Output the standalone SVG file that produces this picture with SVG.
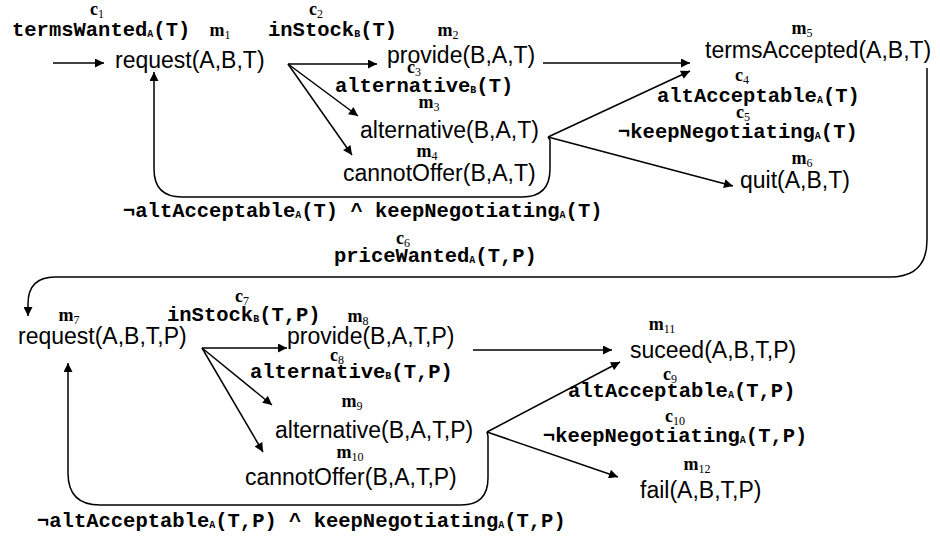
<svg xmlns="http://www.w3.org/2000/svg" width="940" height="537" viewBox="0 0 940 537">
<style>
.n{font-family:"Liberation Sans",Arial,sans-serif;font-size:23px;fill:#000}
.c{font-family:"Liberation Mono","Courier New",monospace;font-weight:bold;font-size:20.5px;fill:#000}
.cs{font-size:10px}
.m{font-family:"Liberation Serif","Times New Roman",serif;font-size:18px;font-weight:bold;fill:#000;text-anchor:middle}
.ms{font-size:12px;font-weight:normal}
.e{fill:none;stroke:#000;stroke-width:1.5}
</style>
<defs>
<marker id="ah" viewBox="0 0 10 10" refX="10" refY="5" markerUnits="userSpaceOnUse" markerWidth="11" markerHeight="9" orient="auto">
<path d="M0,0 L10,5 L0,10 z" fill="#000"/>
</marker>
</defs>
<rect width="940" height="537" fill="#fff"/>

<g id="connectors">
<line class="e" x1="53" y1="63" x2="104" y2="63" marker-end="url(#ah)"/>
<line class="e" x1="288" y1="64" x2="377" y2="64" marker-end="url(#ah)"/>
<line class="e" x1="288" y1="64" x2="358" y2="116" marker-end="url(#ah)"/>
<line class="e" x1="288" y1="64" x2="352" y2="155" marker-end="url(#ah)"/>
<line class="e" x1="543" y1="63" x2="690" y2="63" marker-end="url(#ah)"/>
<line class="e" x1="548" y1="137" x2="690" y2="71" marker-end="url(#ah)"/>
<line class="e" x1="548" y1="137" x2="733" y2="186" marker-end="url(#ah)"/>
<path class="e" d="M548,137 L550,140 L550,169 Q550,197 522,197 L182,197 Q154,197 154,169 L154,72" marker-end="url(#ah)"/>
<path class="e" d="M927,68 L927,240 Q927,277 890,277 L55,277 Q28,277 28,304 L28,316" marker-end="url(#ah)"/>
<line class="e" x1="202" y1="348" x2="287" y2="348" marker-end="url(#ah)"/>
<line class="e" x1="202" y1="348" x2="272" y2="405" marker-end="url(#ah)"/>
<line class="e" x1="202" y1="348" x2="263" y2="452" marker-end="url(#ah)"/>
<line class="e" x1="473" y1="350" x2="612" y2="350" marker-end="url(#ah)"/>
<line class="e" x1="487" y1="432" x2="620" y2="362" marker-end="url(#ah)"/>
<line class="e" x1="487" y1="432" x2="618" y2="477" marker-end="url(#ah)"/>
<path class="e" d="M487,432 L488,436 L488,478 Q488,505 461,505 L100,505 Q68,505 68,473 L68,363" marker-end="url(#ah)"/>
</g>

<g id="edge-labels">
<text class="m" x="97" y="15">c<tspan class="ms" dy="3">1</tspan></text>
<text class="c" x="12" y="36">termsWanted<tspan class="cs" dy="1">A</tspan><tspan dy="-1">(T)</tspan></text>
<text class="m" x="316" y="15">c<tspan class="ms" dy="3">2</tspan></text>
<text class="c" x="268" y="36">inStock<tspan class="cs" dy="1">B</tspan><tspan dy="-1">(T)</tspan></text>
<text class="m" x="414" y="73">c<tspan class="ms" dy="3">3</tspan></text>
<text class="c" x="335" y="92">alternative<tspan class="cs" dy="1">B</tspan><tspan dy="-1">(T)</tspan></text>
<text class="m" x="742" y="81">c<tspan class="ms" dy="3">4</tspan></text>
<text class="c" x="657" y="102">altAcceptable<tspan class="cs" dy="1">A</tspan><tspan dy="-1">(T)</tspan></text>
<text class="m" x="743" y="118">c<tspan class="ms" dy="3">5</tspan></text>
<text class="c" x="618" y="138">¬keepNegotiating<tspan class="cs" dy="1">A</tspan><tspan dy="-1">(T)</tspan></text>
<text class="c" x="123" y="217">¬altAcceptable<tspan class="cs" dy="1">A</tspan><tspan dy="-1">(T) ^ keepNegotiating</tspan><tspan class="cs" dy="1">A</tspan><tspan dy="-1">(T)</tspan></text>
<text class="m" x="403" y="244">c<tspan class="ms" dy="3">6</tspan></text>
<text class="c" x="334" y="262">priceWanted<tspan class="cs" dy="1">A</tspan><tspan dy="-1">(T,P)</tspan></text>
<text class="m" x="242" y="302">c<tspan class="ms" dy="3">7</tspan></text>
<text class="c" x="167" y="321">inStock<tspan class="cs" dy="1">B</tspan><tspan dy="-1">(T,P)</tspan></text>
<text class="m" x="337" y="361">c<tspan class="ms" dy="3">8</tspan></text>
<text class="c" x="250" y="378">alternative<tspan class="cs" dy="1">B</tspan><tspan dy="-1">(T,P)</tspan></text>
<text class="m" x="670" y="380">c<tspan class="ms" dy="3">9</tspan></text>
<text class="c" x="568" y="397">altAcceptable<tspan class="cs" dy="1">A</tspan><tspan dy="-1">(T,P)</tspan></text>
<text class="m" x="675" y="422">c<tspan class="ms" dy="3">10</tspan></text>
<text class="c" x="543" y="442">¬keepNegotiating<tspan class="cs" dy="1">A</tspan><tspan dy="-1">(T,P)</tspan></text>
<text class="c" x="37" y="527">¬altAcceptable<tspan class="cs" dy="1">A</tspan><tspan dy="-1">(T,P) ^ keepNegotiating</tspan><tspan class="cs" dy="1">A</tspan><tspan dy="-1">(T,P)</tspan></text>
</g>

<g id="m1"><text class="m" x="220" y="36">m<tspan class="ms" dy="3">1</tspan></text><text class="n" x="115" y="68">request(A,B,T)</text></g>
<g id="m2"><text class="m" x="448" y="36">m<tspan class="ms" dy="3">2</tspan></text><text class="n" x="387" y="63">provide(B,A,T)</text></g>
<g id="m3"><text class="m" x="429" y="108">m<tspan class="ms" dy="3">3</tspan></text><text class="n" x="360" y="138">alternative(B,A,T)</text></g>
<g id="m4"><text class="m" x="427" y="157">m<tspan class="ms" dy="3">4</tspan></text><text class="n" x="343" y="181">cannotOffer(B,A,T)</text></g>
<g id="m5"><text class="m" x="802" y="34">m<tspan class="ms" dy="3">5</tspan></text><text class="n" x="705" y="58">termsAccepted(A,B,T)</text></g>
<g id="m6"><text class="m" x="802" y="164">m<tspan class="ms" dy="3">6</tspan></text><text class="n" x="740" y="188">quit(A,B,T)</text></g>
<g id="m7"><text class="m" x="69" y="321">m<tspan class="ms" dy="3">7</tspan></text><text class="n" x="18" y="344">request(A,B,T,P)</text></g>
<g id="m8"><text class="m" x="358" y="322">m<tspan class="ms" dy="3">8</tspan></text><text class="n" x="287" y="344">provide(B,A,T,P)</text></g>
<g id="m9"><text class="m" x="352" y="407">m<tspan class="ms" dy="3">9</tspan></text><text class="n" x="275" y="438">alternative(B,A,T,P)</text></g>
<g id="m10"><text class="m" x="350" y="458">m<tspan class="ms" dy="3">10</tspan></text><text class="n" x="245" y="485">cannotOffer(B,A,T,P)</text></g>
<g id="m11"><text class="m" x="662" y="330">m<tspan class="ms" dy="3">11</tspan></text><text class="n" x="630" y="358">suceed(A,B,T,P)</text></g>
<g id="m12"><text class="m" x="697" y="470">m<tspan class="ms" dy="3">12</tspan></text><text class="n" x="640" y="498">fail(A,B,T,P)</text></g>
</svg>
